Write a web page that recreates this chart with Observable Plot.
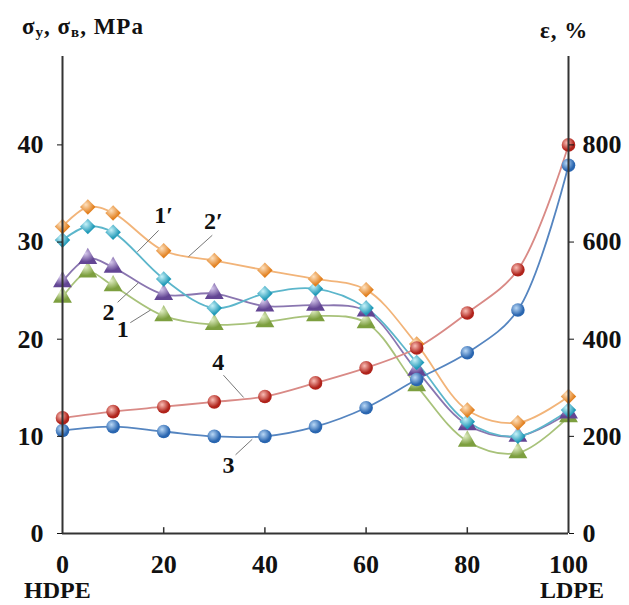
<!DOCTYPE html>
<html><head><meta charset="utf-8">
<script src="https://cdn.jsdelivr.net/npm/d3@7"></script>
<script src="https://cdn.jsdelivr.net/npm/@observablehq/plot@0.6"></script>
<style>
body{margin:0;background:#fff;}
#wrap{position:relative;width:629px;height:605px;font-family:"Liberation Serif",serif;font-weight:bold;color:#111;}
.lbl{position:absolute;font-size:23px;white-space:nowrap;line-height:26px;}
.lbl sub{font-size:15px;vertical-align:-3px;line-height:0;}
</style></head>
<body><div id="wrap"></div>
<script>
// HDPE/LDPE composition, % LDPE
const xs = [0,5,10,20,30,40,50,60,70,80,90,100];
const s2p = [31.6,33.6,33.0,29.1,28.1,27.1,26.2,25.1,19.5,12.7,11.4,14.1]; // 2'
const s1p = [30.2,31.6,31.0,26.2,23.2,24.7,25.2,23.2,17.6,11.5,10.0,12.7]; // 1'
const s2  = [25.9,28.3,27.4,24.6,24.7,23.4,23.5,22.9,16.8,11.2,10.0,12.4]; // 2
const s1  = [24.3,26.9,25.5,22.4,21.5,21.8,22.4,21.7,15.2,9.5,8.3,12.0];   // 1
const xe = [0,10,20,30,40,50,60,70,80,90,100];
const e4 = [238,251,261,271,282,310,341,382,454,543,800]; // 4, elongation %
const e3 = [212,220,210,200,200,220,259,317,372,460,758]; // 3, elongation %
const yTicks = [0,10,20,30,40];
const yRightLabels = ["0","200","400","600","800"];
const xTicks = [0,20,40,60,80,100];
const annLabels = ["1\u2032","2\u2032","2","1","4","3"];
const annText = [[20,32.8],[29.8,32.1],[9.1,22.8],[11.9,21.0],[30.8,17.6],[32.8,7.0]];
const annLead = [[19,31.2,14.8,29.0],[29.6,30.7,24.9,28.5],[10.9,23.8,15,25.8],[13.4,21.7,17.4,23.0],[31.8,16.3,35.8,14.0],[34.2,8.1,37.5,9.7]];

const series = [
  {name:"1", vals:s1, line:"#a8c27a", grad:"gGreen", sym:"triangle"},
  {name:"2", vals:s2, line:"#8a76b0", grad:"gPurple", sym:"triangle"},
  {name:"1'", vals:s1p, line:"#5cb6cb", grad:"gCyan", sym:"diamond2"},
  {name:"2'", vals:s2p, line:"#f2b479", grad:"gOrange", sym:"diamond2"}
];
const eseries = [
  {name:"3", vals:e3, line:"#5585c0", grad:"gBlue"},
  {name:"4", vals:e4, line:"#d98a86", grad:"gRed"}
];
const ymax = 49.1;
const marks = [];
for (const s of series) {
  const data = xs.map((x,i)=>({x, y:s.vals[i]}));
  marks.push(Plot.line(data,{x:"x",y:"y",curve:"catmull-rom",stroke:s.line,strokeWidth:1.8}));
}
for (const s of eseries) {
  const data = xe.map((x,i)=>({x, y:s.vals[i]/20}));
  marks.push(Plot.line(data,{x:"x",y:"y",curve:"catmull-rom",stroke:s.line,strokeWidth:1.8}));
}
for (const s of series) {
  const data = xs.map((x,i)=>({x, y:s.vals[i]}));
  marks.push(Plot.dot(data,{x:"x",y:"y",symbol:s.sym,r:7,fill:`url(#${s.grad})`,stroke:"none"}));
}
for (const s of eseries) {
  const data = xe.map((x,i)=>({x, y:s.vals[i]/20}));
  marks.push(Plot.dot(data,{x:"x",y:"y",symbol:"circle",r:6.8,fill:`url(#${s.grad})`,stroke:"none"}));
}
const leads = annLead.map(a=>({x1:a[0],y1:a[1],x2:a[2],y2:a[3]}));
const texts = annText.map((a,i)=>({x:a[0],y:a[1],t:annLabels[i]}));
marks.push(
  Plot.link(leads,{x1:"x1",y1:"y1",x2:"x2",y2:"y2",stroke:"#777",strokeWidth:1}),
  Plot.text(texts,{x:"x",y:"y",text:"t",fontSize:24,fontWeight:"bold",fill:"#111"}),
  Plot.ruleX([0,100],{y1:0,y2:ymax,stroke:"#333",strokeWidth:2}),
  Plot.ruleY([0],{x1:0,x2:100,stroke:"#333",strokeWidth:2}),
  Plot.axisY({anchor:"left",ticks:yTicks,tickSize:5,tickPadding:14,fontSize:26,label:null,tickFormat:d=>String(d)}),
  Plot.axisY({anchor:"right",ticks:yTicks,tickSize:5,tickPadding:9,fontSize:26,label:null,tickFormat:(d,i)=>yRightLabels[yTicks.indexOf(d)]}),
  Plot.ruleX(xTicks.slice(1,-1),{y1:0,y2:0.6,stroke:"#333",strokeWidth:1.5}),
  Plot.axisX({ticks:xTicks,tickSize:0,tickPadding:21,fontSize:26,label:null})
);
const chart = Plot.plot({
  width:629, height:605,
  marginLeft:62, marginRight:61, marginTop:56, marginBottom:72,
  x:{domain:[0,100]},
  y:{domain:[0,ymax]},
  style:{fontFamily:"Liberation Serif",fontWeight:"bold",color:"#111",background:"#fff"},
  marks
});
// radial gradients for shaded markers
const grads = {gGreen:["#e2efc6","#7d9f3f"],gPurple:["#d6c9ec","#634694"],gCyan:["#c6f1f8","#219ab8"],
  gOrange:["#fde0bd","#e2801f"],gBlue:["#b9d8f6","#2a66b0"],gRed:["#f9bdb5","#b0231b"]};
const ns="http://www.w3.org/2000/svg";
const defs=document.createElementNS(ns,"defs");
for (const [id,[c0,c1]] of Object.entries(grads)){
  const g=document.createElementNS(ns,"radialGradient");
  g.setAttribute("id",id);g.setAttribute("cx","0.38");g.setAttribute("cy","0.35");g.setAttribute("r","0.7");
  const a=document.createElementNS(ns,"stop");a.setAttribute("offset","0");a.setAttribute("stop-color",c0);
  const b=document.createElementNS(ns,"stop");b.setAttribute("offset","0.75");b.setAttribute("stop-color",c1);
  g.appendChild(a);g.appendChild(b);defs.appendChild(g);
}
chart.insertBefore(defs,chart.firstChild);
const wrap=document.getElementById("wrap");
wrap.appendChild(chart);
const t1=document.createElement("div");t1.className="lbl";t1.style.left="22px";t1.style.top="14px";t1.style.letterSpacing="1px";
t1.innerHTML="σ<sub>y</sub>, σ<sub>в</sub>, MPa";wrap.appendChild(t1);
const t2=document.createElement("div");t2.className="lbl";t2.style.left="540px";t2.style.top="18px";t2.style.letterSpacing="1px";
t2.innerHTML="ε, %";wrap.appendChild(t2);
const h=document.createElement("div");h.className="lbl";h.style.left="24px";h.style.top="578px";h.style.fontSize="24px";h.style.lineHeight="24px";h.textContent="HDPE";wrap.appendChild(h);
const l=document.createElement("div");l.className="lbl";l.style.left="540px";l.style.top="578px";l.style.fontSize="24px";l.style.lineHeight="24px";l.textContent="LDPE";wrap.appendChild(l);
</script></body></html>
